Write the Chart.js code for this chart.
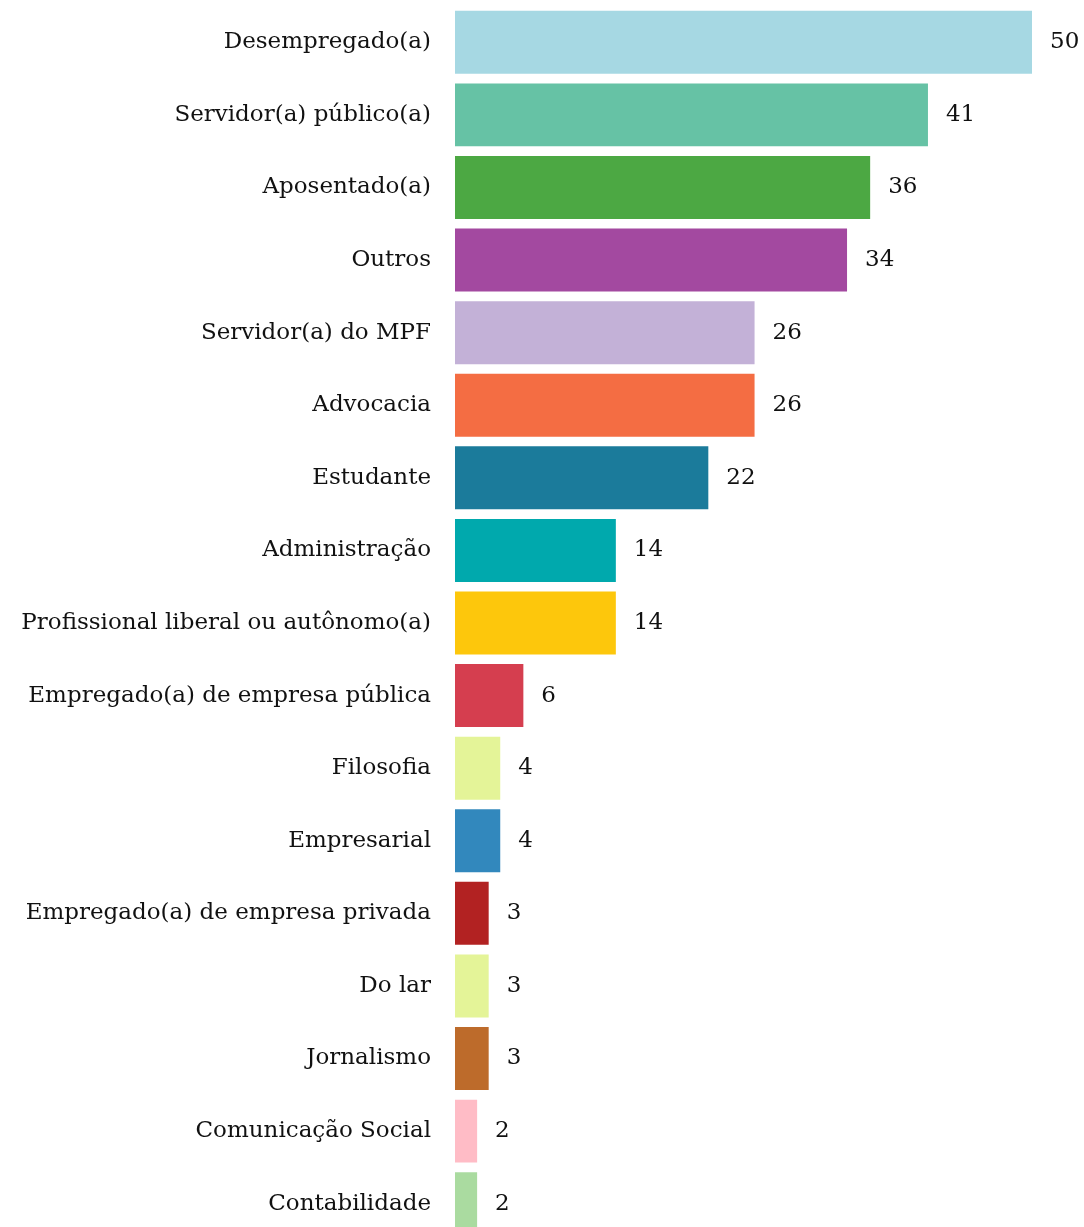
<!DOCTYPE html>
<html>
<head>
<meta charset="utf-8">
<script src="https://cdn.jsdelivr.net/npm/chart.js@4"></script>
<style>
    html, body { margin: 0; padding: 0; background: #fff; overflow: hidden; }
    #wrap { width: 1084px; height: 1242px; }
</style>
</head>
<body>
<div id="wrap"><canvas id="occChart"></canvas></div>
<script>
const categories = [
    'Desempregado(a)', 'Servidor(a) público(a)', 'Aposentado(a)', 'Outros',
    'Servidor(a) do MPF', 'Advocacia', 'Estudante', 'Administração',
    'Profissional liberal ou autônomo(a)', 'Empregado(a) de empresa pública',
    'Filosofia', 'Empresarial', 'Empregado(a) de empresa privada', 'Do lar',
    'Jornalismo', 'Comunicação Social', 'Contabilidade'
];
const counts = [50, 41, 36, 34, 26, 26, 22, 14, 14, 6, 4, 4, 3, 3, 3, 2, 2];
const barColors = [
    '#a6d8e3', '#66c2a5', '#4ca843', '#a349a0', '#c3b1d7', '#f46d43',
    '#1b7b9b', '#00a9ad', '#fdc70c', '#d53e4f', '#e4f498', '#3288bd',
    '#b22222', '#e4f498', '#bd6b2b', '#ffbcc6', '#aadba0'
];

const serif = "'DejaVu Serif', 'Liberation Serif', serif";

// draws the count just past the end of each bar
const valueLabels = {
    id: 'valueLabels',
    afterDatasetsDraw(chart) {
        const ctx = chart.ctx;
        const meta = chart.getDatasetMeta(0);
        ctx.save();
        ctx.font = '23px ' + serif;
        ctx.fillStyle = '#111';
        ctx.textAlign = 'left';
        ctx.textBaseline = 'middle';
        meta.data.forEach((bar, i) => {
            ctx.fillText(String(counts[i]), bar.x + 17, bar.y);
        });
        ctx.restore();
    }
};

const ctx = document.getElementById('occChart').getContext('2d');
const occChart = new Chart(ctx, {
    type: 'bar',
    data: {
        labels: categories,
        datasets: [{
            data: counts,
            backgroundColor: barColors,
            borderColor: 'rgba(255, 255, 255, 0.5)',
            borderWidth: 1,
            barPercentage: 0.895,
            categoryPercentage: 1
        }]
    },
    options: {
        indexAxis: 'y',
        responsive: true,
        maintainAspectRatio: false,
        animation: false,
        layout: { padding: { top: 6, right: 51, bottom: 2, left: 0 } },
        plugins: {
            legend: { display: false },
            tooltip: { enabled: false }
        },
        scales: {
            x: {
                min: 0,
                max: 50,
                display: false
            },
            y: {
                grid: { display: false },
                border: { display: false },
                ticks: {
                    color: '#111',
                    padding: 16,
                    font: { family: serif, size: 23 }
                },
                afterFit(scale) {
                    scale.width = 455;
                    scale.paddingTop = 0;
                    scale.paddingBottom = 0;
                }
            }
        }
    },
    plugins: [valueLabels]
});
</script>
</body>
</html>
